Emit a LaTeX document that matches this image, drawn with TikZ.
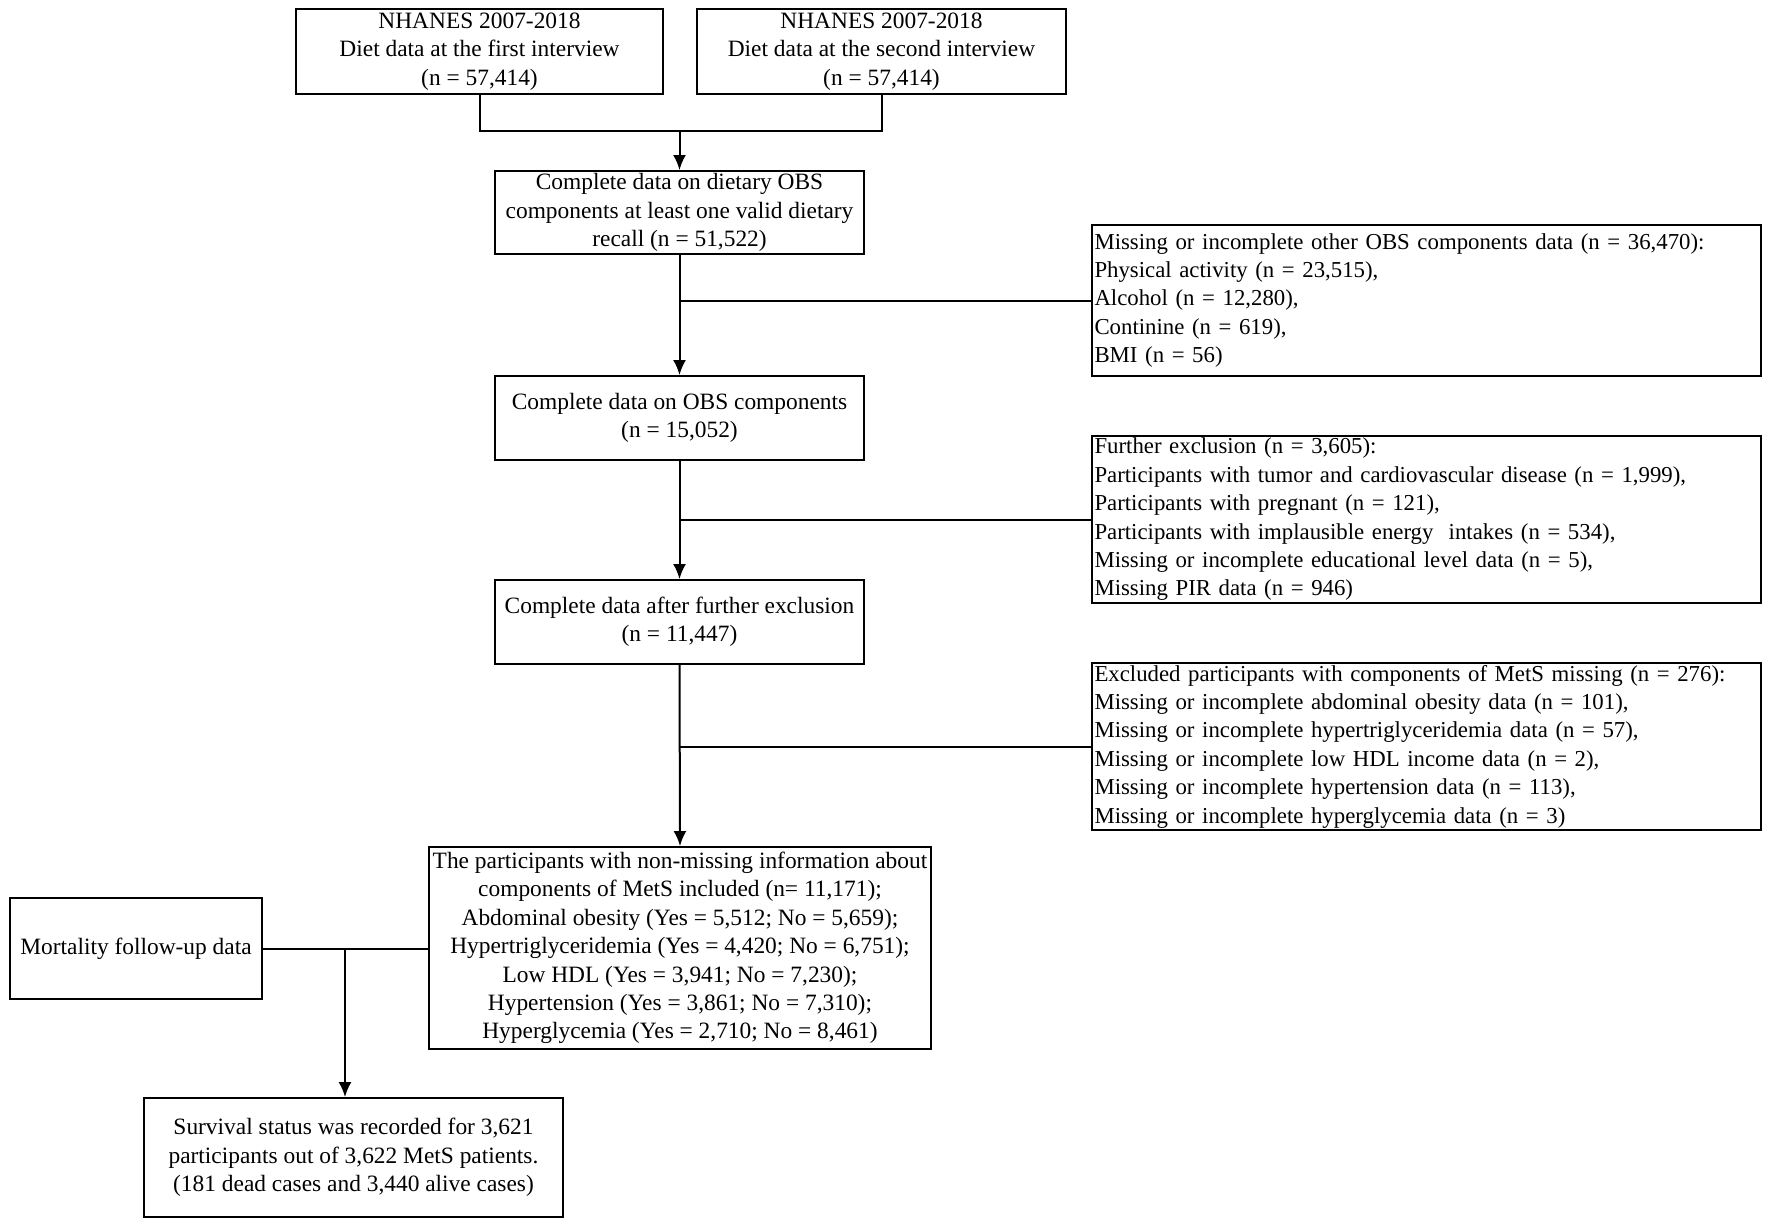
\documentclass[tikz,border=0pt]{standalone}
\usepackage{fontspec}
\setmainfont{Liberation Serif}
\usetikzlibrary{arrows.meta}
\newcommand\fs{\fontsize{23.4}{28.4}\selectfont}
\newcommand\fsr{\fontsize{22.8}{28.4}\selectfont}
\begin{document}
\begin{tikzpicture}[x=1pt,y=-1pt,
  box/.style={draw, line width=2pt, inner xsep=2pt, inner ysep=0pt, align=center, font=\fs},
  lbox/.style={box, align=left, text width=664pt, minimum width=669pt, font=\fsr},
  conn/.style={line width=2pt},
  arr/.style={conn, -{Latex[length=15pt,width=13pt]}}]
\useasboundingbox (0,0) rectangle (1772,1227);

\node[box, minimum width=367pt, minimum height=85pt] (A) at (479.5,51.5)
  {NHANES 2007-2018\\Diet data at the first interview\\(n = 57,414)};
\node[box, minimum width=369pt, minimum height=85pt] (B) at (881.5,51.5)
  {NHANES 2007-2018\\Diet data at the second interview\\(n = 57,414)};
\node[box, minimum width=369pt, minimum height=83pt] (C) at (679.5,212.5)
  {Complete data on dietary OBS\\components at least one valid dietary\\recall (n = 51,522)};
\node[lbox, minimum height=151pt] (E) at (1426.5,300.5)
  {Missing or incomplete other OBS components data (n = 36,470):\\
   Physical activity (n = 23,515),\\
   Alcohol (n = 12,280),\\
   Continine (n = 619),\\
   BMI (n = 56)};
\node[box, minimum width=369pt, minimum height=84pt] (D) at (679.5,418)
  {Complete data on OBS components\\(n = 15,052)};
\node[lbox, minimum height=167pt] (F) at (1426.5,519.5)
  {Further exclusion (n = 3,605):\\
   Participants with tumor and cardiovascular disease (n = 1,999),\\
   Participants with pregnant (n = 121),\\
   Participants with implausible energy\ \ intakes (n = 534),\\
   Missing or incomplete educational level data (n = 5),\\
   Missing PIR data (n = 946)};
\node[box, minimum width=369pt, minimum height=84pt] (G) at (679.5,622)
  {Complete data after further exclusion\\(n = 11,447)};
\node[lbox, minimum height=167pt] (H) at (1426.5,746.5)
  {Excluded participants with components of MetS missing (n = 276):\\
   Missing or incomplete abdominal obesity data (n = 101),\\
   Missing or incomplete hypertriglyceridemia data (n = 57),\\
   Missing or incomplete low HDL income data (n = 2),\\
   Missing or incomplete hypertension data (n = 113),\\
   Missing or incomplete hyperglycemia data (n = 3)};
\node[box, inner xsep=1pt, minimum width=502pt, minimum height=202pt] (I) at (680,948)
  {The participants with non-missing information about\\
   components of MetS included (n= 11,171);\\
   Abdominal obesity (Yes = 5,512; No = 5,659);\\
   Hypertriglyceridemia (Yes = 4,420; No = 6,751);\\
   Low HDL (Yes = 3,941; No = 7,230);\\
   Hypertension (Yes = 3,861; No = 7,310);\\
   Hyperglycemia (Yes = 2,710; No = 8,461)};
\node[box, minimum width=252pt, minimum height=101pt] (M) at (136,948.5)
  {Mortality follow-up data};
\node[box, minimum width=419pt, minimum height=119pt] (J) at (353.5,1157.5)
  {Survival status was recorded for 3,621\\
   participants out of 3,622 MetS patients.\\
   (181 dead cases and 3,440 alive cases)};

\coordinate (j1) at (C.north |- 0,131);
\draw[conn] (A.south) |- (j1) -| (B.south);
\draw[arr] (j1) -- (C.north);
\draw[arr] (C.south) -- (D.north);
\draw[conn] (C.south |- E.west) -- (E.west);
\draw[arr] (D.south) -- (G.north);
\draw[conn] (D.south |- F.west) -- (F.west);
\draw[arr] (G.south) -- (I.north);
\draw[conn] (G.south |- H.west) -- (H.west);
\draw[conn] (M.east) -- (M.east -| I.west);
\coordinate (k) at (345,948.5);
\draw[arr] (k) -- (J.north -| k);
\end{tikzpicture}
\end{document}
